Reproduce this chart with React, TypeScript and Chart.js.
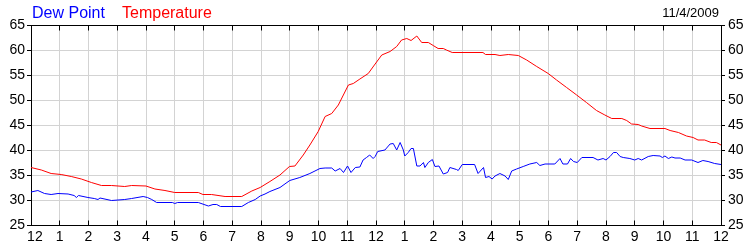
import React, { useEffect, useRef } from "react";
import { Chart, registerables } from "chart.js";

Chart.register(...registerables);

const hourLabels = ["12", "1", "2", "3", "4", "5", "6", "7", "8", "9", "10", "11", "12", "1", "2", "3", "4", "5", "6", "7", "8", "9", "10", "11", "12"];
const yMin = 25;
const yMax = 65;
const yStep = 5;
const legendLabels = ["Dew Point", "Temperature"];
const dateLabel = "11/4/2009";

const tempHours = [0, 0.36, 0.7, 1.05, 1.4, 1.75, 2.1, 2.45, 2.8, 3.26, 3.5, 4.0, 4.31, 4.66, 5.0, 5.82, 5.98, 6.28, 6.75, 7.33, 7.68, 7.97, 8.31, 8.66, 8.99, 9.18, 9.47, 9.7, 9.99, 10.23, 10.46, 10.69, 11.04, 11.21, 11.44, 11.73, 11.97, 12.2, 12.49, 12.72, 12.89, 13.07, 13.22, 13.42, 13.59, 13.82, 13.99, 14.16, 14.34, 14.45, 14.65, 15.72, 15.81, 16.14, 16.31, 16.6, 16.95, 17.24, 17.59, 17.99, 18.28, 18.63, 18.98, 19.32, 19.67, 19.96, 20.2, 20.55, 20.72, 20.89, 21.12, 21.24, 21.53, 22.05, 22.23, 22.52, 22.8, 23.03, 23.2, 23.43, 23.66, 23.84, 24];
const tempValues = [36.5, 36.0, 35.3, 35.1, 34.7, 34.2, 33.5, 32.9, 32.9, 32.7, 32.9, 32.8, 32.2, 31.9, 31.5, 31.5, 31.1, 31.1, 30.7, 30.7, 31.8, 32.5, 33.7, 35.0, 36.7, 36.8, 39.0, 41.0, 43.7, 46.7, 47.3, 49.0, 53.0, 53.3, 54.2, 55.3, 57.2, 59.0, 59.7, 60.7, 62.0, 62.3, 61.9, 62.8, 61.5, 61.5, 60.9, 60.3, 60.3, 60.0, 59.5, 59.5, 59.1, 59.1, 58.9, 59.1, 58.9, 58.0, 56.7, 55.3, 54.0, 52.5, 51.0, 49.5, 47.9, 47.0, 46.3, 46.3, 45.9, 45.2, 45.1, 44.8, 44.3, 44.3, 43.9, 43.5, 42.8, 42.5, 42.0, 42.0, 41.5, 41.5, 41.0];

const dewHours = [0, 0.24, 0.47, 0.7, 0.94, 1.29, 1.5, 1.58, 1.65, 1.98, 2.2, 2.33, 2.4, 2.8, 3.26, 3.5, 3.9, 4.05, 4.2, 4.37, 4.92, 5.0, 5.1, 5.82, 6.17, 6.33, 6.46, 6.59, 7.33, 7.56, 7.8, 7.97, 8.14, 8.31, 8.66, 9.0, 9.35, 9.7, 10.05, 10.23, 10.46, 10.58, 10.75, 10.87, 11.01, 11.13, 11.28, 11.44, 11.55, 11.67, 11.78, 11.9, 11.97, 12.06, 12.31, 12.49, 12.6, 12.72, 12.84, 12.95, 13.0, 13.12, 13.22, 13.3, 13.42, 13.53, 13.65, 13.7, 13.82, 13.96, 14.05, 14.19, 14.34, 14.49, 14.57, 14.8, 14.86, 15.0, 15.43, 15.55, 15.66, 15.74, 15.81, 15.93, 16.04, 16.14, 16.31, 16.49, 16.6, 16.72, 16.89, 17.12, 17.35, 17.59, 17.7, 17.88, 18.22, 18.4, 18.5, 18.66, 18.77, 18.87, 19.0, 19.16, 19.55, 19.72, 19.9, 20.0, 20.14, 20.26, 20.37, 20.49, 20.6, 20.83, 21.0, 21.12, 21.24, 21.47, 21.64, 21.88, 21.96, 22.05, 22.17, 22.29, 22.4, 22.58, 22.75, 22.98, 23.2, 23.37, 23.55, 23.78, 24];
const dewValues = [31.6, 31.9, 31.3, 31.1, 31.3, 31.2, 30.9, 30.5, 30.9, 30.5, 30.3, 30.1, 30.4, 29.9, 30.1, 30.3, 30.7, 30.5, 30.1, 29.5, 29.5, 29.3, 29.5, 29.5, 28.8, 29.1, 29.1, 28.7, 28.7, 29.5, 30.1, 30.8, 31.2, 31.7, 32.5, 33.9, 34.5, 35.3, 36.3, 36.4, 36.4, 35.8, 36.3, 35.5, 36.8, 35.5, 36.5, 36.6, 38.0, 38.5, 39.0, 38.3, 38.7, 39.7, 40.0, 41.2, 41.3, 40.0, 41.5, 40.0, 38.8, 39.5, 40.3, 40.3, 36.8, 36.8, 37.5, 36.5, 37.5, 38.1, 36.7, 36.8, 35.2, 35.5, 36.5, 36.1, 35.9, 37.1, 37.1, 35.3, 36.0, 36.5, 34.5, 34.7, 34.2, 34.8, 35.3, 34.8, 34.1, 35.8, 36.2, 36.7, 37.2, 37.5, 36.9, 37.2, 37.2, 38.3, 37.2, 37.2, 38.3, 37.7, 37.5, 38.5, 38.5, 38.0, 38.3, 38.0, 38.7, 39.5, 39.5, 38.7, 38.5, 38.3, 38.0, 38.3, 38.0, 38.7, 38.9, 38.8, 38.5, 38.8, 38.3, 38.6, 38.4, 38.4, 38.0, 38.0, 37.5, 37.9, 37.7, 37.3, 37.1];

const FONT = '"Liberation Sans", Arial, sans-serif';

const alignPx = (p: number) => Math.round(p - 0.5) + 0.5;

const framePlugin = {
  id: "framePlugin",
  afterDraw(chart: any) {
    const { ctx, chartArea } = chart;
    const xs = chart.scales.x;
    ctx.save();
    ctx.strokeStyle = "#000";
    ctx.lineWidth = 1;
    ctx.beginPath();
    const top = alignPx(chartArea.top);
    const bottom = alignPx(chartArea.bottom);
    ctx.moveTo(chartArea.left, top);
    ctx.lineTo(chartArea.right + 1, top);
    for (let i = 0; i < hourLabels.length; i++) {
      const px = alignPx(xs.getPixelForValue(i));
      ctx.moveTo(px, top);
      ctx.lineTo(px, top + 5);
      ctx.moveTo(px, bottom);
      ctx.lineTo(px, bottom - 5);
    }
    ctx.stroke();

    ctx.textBaseline = "alphabetic";
    ctx.font = `16px ${FONT}`;
    ctx.textAlign = "left";
    ctx.fillStyle = "#0000ff";
    ctx.fillText(legendLabels[0], 32, 18);
    ctx.fillStyle = "#ff0000";
    ctx.fillText(legendLabels[1], 122, 18);

    ctx.font = `13px ${FONT}`;
    ctx.textAlign = "right";
    ctx.fillStyle = "#000";
    ctx.fillText(dateLabel, 719, 17);
    ctx.restore();
  },
};

export default function App() {
  const canvasRef = useRef<HTMLCanvasElement | null>(null);

  useEffect(() => {
    if (!canvasRef.current) return;
    const tempData = tempHours.map((h, i) => ({ x: h, y: tempValues[i] }));
    const dewData = dewHours.map((h, i) => ({ x: h, y: dewValues[i] }));
    const tickFont = { family: FONT, size: 14 };

    const chart = new Chart(canvasRef.current, {
      type: "line",
      data: {
        datasets: [
          {
            label: legendLabels[0],
            data: dewData,
            borderColor: "#0000ff",
            borderWidth: 1,
            pointRadius: 0,
            tension: 0,
            fill: false,
          },
          {
            label: legendLabels[1],
            data: tempData,
            borderColor: "#ff0000",
            borderWidth: 1,
            pointRadius: 0,
            tension: 0,
            fill: false,
          },
        ],
      },
      options: {
        animation: false,
        responsive: false,
        devicePixelRatio: 1,
        layout: { padding: { top: 25, left: 0, right: 0, bottom: 0 }, autoPadding: false },
        plugins: {
          legend: { display: false },
          tooltip: { enabled: false },
          title: { display: false },
        },
        scales: {
          x: {
            type: "linear",
            min: 0,
            max: 24,
            position: "bottom",
            afterFit: (s: any) => {
              s.height = 25;
            },
            ticks: {
              stepSize: 1,
              autoSkip: false,
              maxRotation: 0,
              padding: 4,
              color: "#000",
              font: tickFont,
              callback: (v: any) => {
                const i = Math.round(Number(v));
                return i === 0 ? "  " + hourLabels[i] : hourLabels[i];
              },
            },
            grid: { color: "#d3d3d3", lineWidth: 1, drawTicks: false },
            border: { color: "#000", width: 1 },
          },
          y: {
            type: "linear",
            position: "left",
            min: yMin,
            max: yMax,
            afterFit: (s: any) => {
              s.width = 31;
            },
            ticks: { stepSize: yStep, padding: 2, color: "#000", font: tickFont },
            grid: { color: "#d3d3d3", lineWidth: 1, tickColor: "#000", tickLength: 4 },
            border: { color: "#000", width: 1 },
          },
          y2: {
            type: "linear",
            position: "right",
            min: yMin,
            max: yMax,
            afterFit: (s: any) => {
              s.width = 29;
            },
            ticks: { stepSize: yStep, padding: 3, color: "#000", font: tickFont },
            grid: { drawOnChartArea: false, tickColor: "#000", tickLength: 4 },
            border: { color: "#000", width: 1 },
          },
        },
      },
      plugins: [framePlugin],
    } as any);

    return () => chart.destroy();
  }, []);

  return (
    <div style={{ position: "fixed", left: 0, top: 0, width: 750, height: 250, background: "#fff" }}>
      <canvas ref={canvasRef} width={750} height={250} style={{ display: "block", width: 750, height: 250 }} />
    </div>
  );
}
